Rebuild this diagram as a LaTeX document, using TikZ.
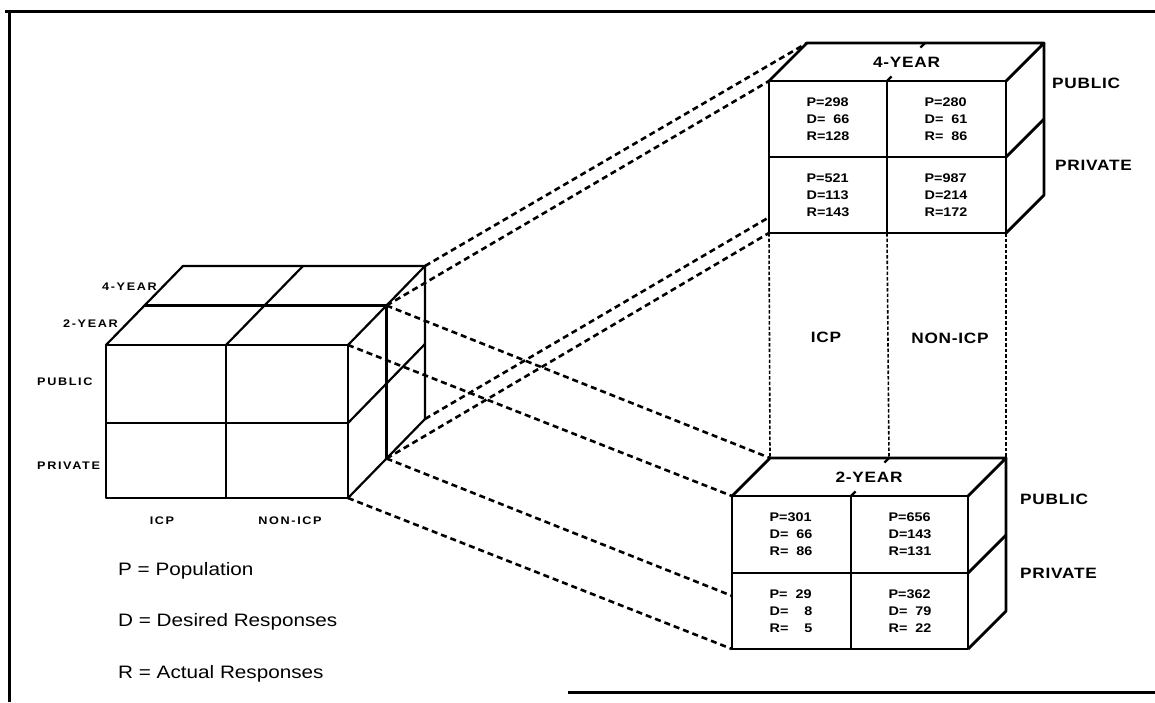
\documentclass[tikz,border=0pt]{standalone}
\usepackage{fontspec}
\setmainfont[FakeStretch=1.15]{Liberation Sans}
\newfontfamily\capsmall[FakeStretch=1.15,LetterSpace=15]{Liberation Sans}
\newfontfamily\capbig[FakeStretch=1.15,LetterSpace=5]{Liberation Sans}
\usetikzlibrary{calc}

\begin{document}
\begin{tikzpicture}[x=1pt,y=-1pt,
	edge/.style={ line width=2.2pt, line join=round },
	boxedge/.style={ line width=2.8pt, line join=round },
	frame/.style={ line width=3pt },
	proj/.style={ line width=2.6pt, dash pattern=on 6pt off 4pt },
	drop/.style={ line width=1.6pt, dash pattern=on 3.5pt off 2pt },
	smalllabel/.style={ font=\capsmall\bfseries\fontsize{11}{13}\selectfont, inner sep=0pt },
	biglabel/.style={ font=\capbig\bfseries\fontsize{15}{18}\selectfont, inner sep=0pt },
	cell/.style={ font=\bfseries\fontsize{12.5}{17}\selectfont, align=left, inner sep=0pt },
	legend/.style={ font=\fontsize{18}{21}\selectfont, anchor=base west, inner sep=0pt }
]
\useasboundingbox (0,0) rectangle (1155,702);

% frame
\coordinate (f1) at (5,11);
\coordinate (f2) at (1155,11);
\coordinate (f3) at (9,11);
\coordinate (f4) at (9,702);
\coordinate (f5) at (568,692);
\coordinate (f6) at (1155,692);
\draw[frame] (f1) -- (f2);
\draw[frame] (f3) -- (f4);
\draw[frame] (f5) -- (f6);

% small cube
\coordinate (ftl) at (106,345);
\coordinate (ftc) at (226,345);
\coordinate (ftr) at (348,345);
\coordinate (fml) at (106,423);
\coordinate (fmr) at (348,423);
\coordinate (fbl) at (106,498);
\coordinate (fbc) at (226,498);
\coordinate (fbr) at (348,498);
\coordinate (mtl) at (144.5,305.5);
\coordinate (mtr) at (386.5,305.5);
\coordinate (mbr) at (386.5,458.5);
\coordinate (btl) at (183,266);
\coordinate (btc) at (303,266);
\coordinate (btr) at (425,266);
\coordinate (bmr) at (425,344);
\coordinate (bbr) at (425,419);
\draw[edge] (ftl) rectangle (fbr);
\draw[edge] (fml) -- (fmr);
\draw[edge] (ftc) -- (fbc);
\draw[edge] (ftl) -- (btl) -- (btr) -- (ftr);
\draw[edge] (btr) -- (bbr) -- (fbr);
\draw[edge] (mtl) -- (mtr) -- (mbr);
\draw[edge] (fmr) -- (bmr);
\draw[edge] (ftc) -- (btc);

\node at (157,287) (l4) [smalllabel,anchor=east] {4-YEAR};
\node at (118,324) (l2) [smalllabel,anchor=east] {2-YEAR};
\node at (37,382) (lpu) [smalllabel,anchor=west] {PUBLIC};
\node at (37,466) (lpr) [smalllabel,anchor=west] {PRIVATE};
\node at (162,521) (licp) [smalllabel] {ICP};
\node at (290,521) (lnon) [smalllabel] {NON-ICP};

% 4-year box
\coordinate (Tftl) at (769,81);
\coordinate (Tftc) at (887,81);
\coordinate (Tftr) at (1006,81);
\coordinate (Tfml) at (769,157);
\coordinate (Tfmr) at (1006,157);
\coordinate (Tfbl) at (769,233);
\coordinate (Tfbc) at (887,233);
\coordinate (Tfbr) at (1006,233);
\coordinate (Tbtl) at (807,43);
\coordinate (Tbtc) at (925,43);
\coordinate (Tbtr) at (1044,43);
\coordinate (Tbmr) at (1044,119);
\coordinate (Tbbr) at (1044,195);
\coordinate (Tbbl) at (807,195);
\draw[boxedge] (Tftl) rectangle (Tfbr);
\draw[boxedge] (Tfml) -- (Tfmr);
\draw[boxedge] (Tftc) -- (Tfbc);
\draw[boxedge] (Tftl) -- (Tbtl) -- (Tbtr) -- (Tftr);
\draw[boxedge] (Tbtr) -- (Tbbr) -- (Tfbr);
\draw[boxedge] (Tfmr) -- (Tbmr);
\draw[edge] (Tftc) -- ($(Tftc)!0.12!(Tbtc)$);
\draw[edge] (Tbtc) -- ($(Tbtc)!0.12!(Tftc)$);

\node at ($(Tftl)!0.5!(Tbtr)$) (t4) [biglabel] {4-YEAR};
\node at (1052,83) (tpu) [biglabel,anchor=west] {PUBLIC};
\node at (1055,165) (tpr) [biglabel,anchor=west] {PRIVATE};
\node at (828,119) (t11) [cell] {P=298\\D=\phantom{0}66\\R=128};
\node at (946,119) (t12) [cell] {P=280\\D=\phantom{0}61\\R=\phantom{0}86};
\node at (828,195) (t21) [cell] {P=521\\D=113\\R=143};
\node at (946,195) (t22) [cell] {P=987\\D=214\\R=172};

% 2-year box
\coordinate (Bftl) at (732,496);
\coordinate (Bftc) at (851,496);
\coordinate (Bftr) at (968,496);
\coordinate (Bfml) at (732,573);
\coordinate (Bfmr) at (968,573);
\coordinate (Bfbl) at (732,649);
\coordinate (Bfbc) at (851,649);
\coordinate (Bfbr) at (968,649);
\coordinate (Bbtl) at (770,458);
\coordinate (Bbtc) at (889,458);
\coordinate (Bbtr) at (1006,458);
\coordinate (Bbmr) at (1006,535);
\coordinate (Bbbr) at (1006,611);
\coordinate (Bbbl) at (770,611);
\draw[boxedge] (Bftl) rectangle (Bfbr);
\draw[boxedge] (Bfml) -- (Bfmr);
\draw[boxedge] (Bftc) -- (Bfbc);
\draw[boxedge] (Bftl) -- (Bbtl) -- (Bbtr) -- (Bftr);
\draw[boxedge] (Bbtr) -- (Bbbr) -- (Bfbr);
\draw[boxedge] (Bfmr) -- (Bbmr);
\draw[edge] (Bftc) -- ($(Bftc)!0.12!(Bbtc)$);
\draw[edge] (Bbtc) -- ($(Bbtc)!0.12!(Bftc)$);

\node at ($(Bftl)!0.5!(Bbtr)$) (b2) [biglabel] {2-YEAR};
\node at (1020,499) (bpu) [biglabel,anchor=west] {PUBLIC};
\node at (1020,573) (bpr) [biglabel,anchor=west] {PRIVATE};
\node at (791,534) (b11) [cell] {P=301\\D=\phantom{0}66\\R=\phantom{0}86};
\node at (910,534) (b12) [cell] {P=656\\D=143\\R=131};
\node at (791,611) (b21) [cell] {P=\phantom{0}29\\D=\phantom{00}8\\R=\phantom{00}5};
\node at (910,611) (b22) [cell] {P=362\\D=\phantom{0}79\\R=\phantom{0}22};

% columns between the boxes
\draw[drop] (Tfbl) -- (Bbtl);
\draw[drop] (Tfbc) -- (Bbtc);
\draw[drop] (Tfbr) -- (Bbtr);
\node at (826,337) (micp) [biglabel] {ICP};
\node at (950,338) (mnon) [biglabel] {NON-ICP};

% projections
\coordinate (h1) at ($(bbr)!0.9!(Tbbl)$);
\coordinate (h2) at ($(mbr)!0.9!(Bbbl)$);
\draw[proj] (btr) -- (Tbtl);
\draw[proj] (mtr) -- (Tftl);
\draw[proj] (bbr) -- (h1);
\draw[proj] (mbr) -- (Tfbl);
\draw[proj] (mtr) -- (Bbtl);
\draw[proj] (ftr) -- (Bftl);
\draw[proj] (mbr) -- (h2);
\draw[proj] (fbr) -- (Bfbl);

% key
\node at (118,575) (kp) [legend] {P = Population};
\node at (118,626) (kd) [legend] {D = Desired Responses};
\node at (118,678) (kr) [legend] {R = Actual Responses};

\end{tikzpicture}
\end{document}
